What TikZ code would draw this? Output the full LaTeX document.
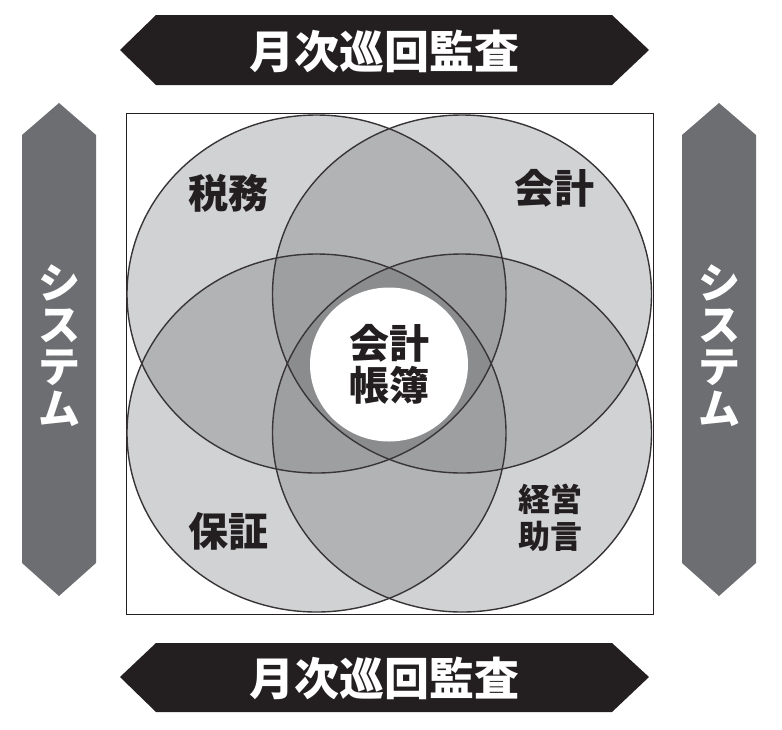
\documentclass[tikz,border=0pt]{standalone}
\usepackage{fontspec}
\newfontfamily\cjk{Noto Sans CJK JP}
\usepackage{tikz}
\definecolor{ink}{HTML}{231F20}
\definecolor{sidegray}{HTML}{6D6E71}
\definecolor{layerA}{HTML}{D1D2D4}
\definecolor{layerB}{HTML}{B2B3B5}
\definecolor{layerC}{HTML}{9E9FA1}
\definecolor{layerD}{HTML}{8B8C8E}
\tikzset{
    x=1pt, y=1pt, % one unit is one pixel of the page
    }
\newcommand{\ringpath}[1]{(#1) ellipse [x radius=189.5, y radius=179]}

\begin{document}
\begin{tikzpicture}[
bandshape/.style={fill=ink, draw=none},
sideshape/.style={fill=sidegray, draw=none},
bandtext/.style={text=white, inner sep=0pt, font=\cjk\bfseries\fontsize{45}{45}\selectfont},
sidetext/.style={text=white, inner sep=0pt, align=center, font=\cjk\bfseries\fontsize{42}{42}\selectfont},
fieldtext/.style={text=ink, inner sep=0pt, align=center, font=\cjk\bfseries\fontsize{40}{42}\selectfont},
smalltext/.style={text=ink, inner sep=0pt, align=center, font=\cjk\bfseries\fontsize{32}{37}\selectfont},
rim/.style={draw=ink!90, line width=1.4pt},
]
\useasboundingbox (0,0) rectangle (782,-729);

% bands
\fill[bandshape] (120,-50) -- (156,-15) -- (612,-15) -- (649,-50) -- (612,-85) -- (156,-85) -- cycle;
\fill[bandshape] (120,-677) -- (156,-643) -- (612,-643) -- (649,-677) -- (612,-712) -- (156,-712) -- cycle;
\fill[sideshape] (59,-103) -- (96,-135) -- (96,-563) -- (59,-596) -- (22,-563) -- (22,-135) -- cycle;
\fill[sideshape] (719,-103) -- (756,-135) -- (756,-563) -- (719,-596) -- (682,-563) -- (682,-135) -- cycle;

% frame
\draw[ink, line width=1pt] (126,-113) rectangle (653,-614);

% circle centres
\coordinate (tl) at (316.5,-294);
\coordinate (tr) at (462,-294);
\coordinate (bl) at (316.5,-433);
\coordinate (br) at (462,-433);

% one, two, three and four layers
\foreach \a in {tl,tr,bl,br}
  \fill[layerA] \ringpath{\a};
\foreach \a/\b in {tl/tr,tl/bl,tl/br,tr/bl,tr/br,bl/br} {
  \begin{scope}
    \clip \ringpath{\a};
    \fill[layerB] \ringpath{\b};
  \end{scope}
}
\foreach \a/\b/\c in {tl/tr/bl,tl/tr/br,tl/bl/br,tr/bl/br} {
  \begin{scope}
    \clip \ringpath{\a};
    \clip \ringpath{\b};
    \fill[layerC] \ringpath{\c};
  \end{scope}
}
\begin{scope}
  \clip \ringpath{tl};
  \clip \ringpath{tr};
  \clip \ringpath{bl};
  \fill[layerD] \ringpath{br};
\end{scope}
\foreach \a in {tl,tr,bl,br}
  \draw[rim] \ringpath{\a};

% centre
\fill[white] (389,-364.5) ellipse [x radius=79, y radius=77];

\node[bandtext] (audittop) at (384,-51) {月次巡回監査};
\node[bandtext] (auditbot) at (384,-678) {月次巡回監査};
\node[sidetext] (sysleft) at (59,-346) {シ\\ス\\テ\\ム};
\node[sidetext] (sysright) at (719,-346) {シ\\ス\\テ\\ム};
\node[fieldtext] (tax) at (228,-193) {税務};
\node[fieldtext] (acct) at (554,-188) {会計};
\node[fieldtext] (guar) at (228,-531) {保証};
\node[smalltext] (advice) at (550,-518) {経営\\助言};
\node[fieldtext] (books) at (389,-364) {会計\\帳簿};
\end{tikzpicture}
\end{document}
